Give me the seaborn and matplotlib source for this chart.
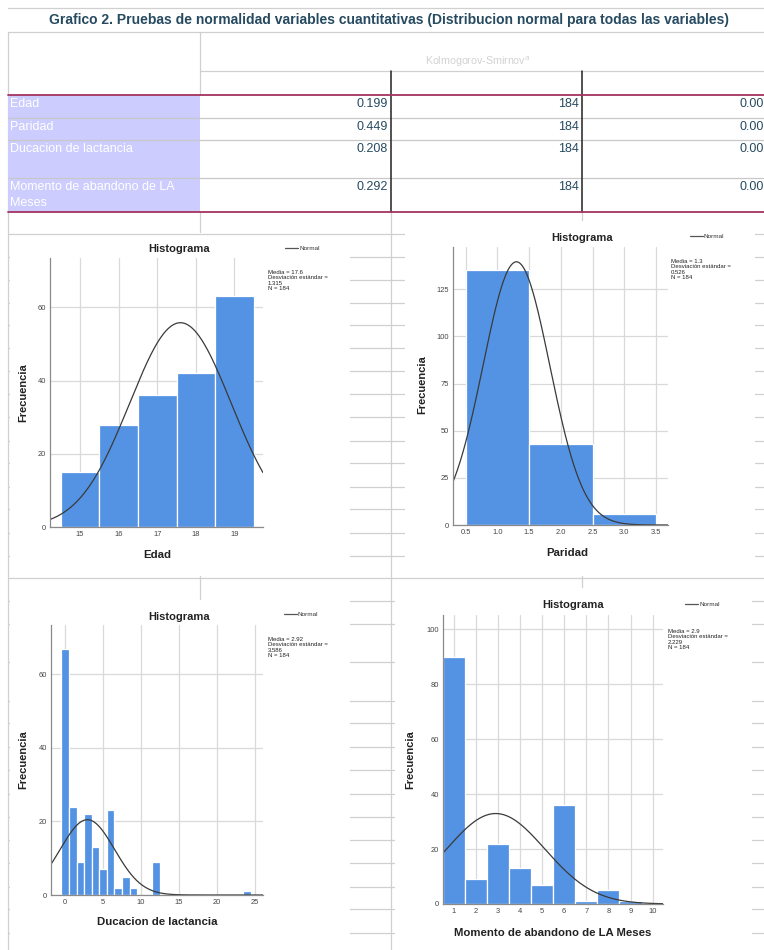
import numpy as np
import matplotlib
matplotlib.use('Agg')
import matplotlib.pyplot as plt
import seaborn as sns
from matplotlib.lines import Line2D
from matplotlib.patches import Rectangle

# Tabla Kolmogorov-Smirnov
variables = ['Edad', 'Paridad', 'Ducacion de lactancia', 'Momento de abandono de LA\nMeses']
estadistico = ['0.199', '0.449', '0.208', '0.292']
gl = ['184', '184', '184', '184']
sig = ['0.00', '0.00', '0.00', '0.00']

# Histogramas: valor -> frecuencia
edad_val = [15, 16, 17, 18, 19]
edad_frec = [15, 28, 36, 42, 63]
paridad_val = [1, 2, 3]
paridad_frec = [135, 43, 6]
lact_val = [0, 1, 2, 3, 4, 5, 6, 7, 8, 9, 12, 24]
lact_frec = [67, 24, 9, 22, 13, 7, 23, 2, 5, 2, 9, 1]
meses_val = [1, 2, 3, 4, 5, 6, 7, 8, 9]
meses_frec = [90, 9, 22, 13, 7, 36, 1, 5, 1]

medias = [17.6, 1.3, 2.92, 2.9]
desviaciones = [1.315, 0.526, 3.586, 2.229]
n_total = 184

sns.set_theme(style='white')
plt.rcParams['font.family'] = ['Liberation Sans', 'DejaVu Sans']

W, H = 764, 950
fig = plt.figure(figsize=(W / 100, H / 100), dpi=100)


def fx(x):
    return x / W


def fy(y):
    return 1 - y / H


def hline(y, x0, x1, color='#d0d0d0', lw=0.9, z=1):
    fig.add_artist(Line2D([fx(x0), fx(x1)], [fy(y), fy(y)], color=color, lw=lw, zorder=z))


def vline(x, y0, y1, color='#d0d0d0', lw=0.9, z=1):
    fig.add_artist(Line2D([fx(x), fx(x)], [fy(y0), fy(y1)], color=color, lw=lw, zorder=z))


def rect(x0, y0, x1, y1, color, z=2):
    fig.add_artist(Rectangle((fx(x0), fy(y1)), fx(x1) - fx(x0), fy(y0) - fy(y1),
                             facecolor=color, edgecolor='none', zorder=z))


# ---------------- tabla ----------------
txt_col = '#264a60'
hline(8, 8, 764)
hline(32, 8, 764)
fig.text(fx(389), fy(20), 'Grafico 2. Pruebas de normalidad variables cuantitativas '
         '(Distribucion normal para todas las variables)',
         ha='center', va='center', fontsize=10, fontweight='bold', color=txt_col)
vline(200, 32, 95)
hline(71, 200, 764)
fig.text(fx(478), fy(62), 'Kolmogorov-Smirnov$^{a}$', ha='center', va='center',
         fontsize=7.7, color='#d2d2d2')

row_top = [95, 118, 140, 178]
rect(8, 95, 200, 212, '#ccccff', z=2)
for i in range(4):
    if i > 0:
        hline(row_top[i], 8, 764, color='#c8c8c8', z=3)
    fig.text(fx(10), fy(row_top[i] + 3), variables[i], ha='left', va='top',
             fontsize=9, color='white', linespacing=1.5, zorder=4)
    fig.text(fx(388), fy(row_top[i] + 3), estadistico[i], ha='right', va='top',
             fontsize=9, color=txt_col)
    fig.text(fx(579), fy(row_top[i] + 3), gl[i], ha='right', va='top',
             fontsize=9, color=txt_col)
    fig.text(fx(764), fy(row_top[i] + 3), sig[i], ha='right', va='top',
             fontsize=9, color=txt_col)
vline(391, 71, 212, color='#222222', lw=1.1, z=3)
vline(582, 71, 212, color='#222222', lw=1.1, z=3)
hline(95, 8, 764, color='#a3345f', lw=1.3, z=4)
hline(212, 8, 764, color='#a3345f', lw=1.3, z=4)

# ---------------- celdas de fondo ----------------
vline(8, 32, 950)
vline(391, 212, 950)
vline(200, 212, 232)
vline(582, 212, 220)
vline(200, 571, 599)
vline(582, 571, 587)
hline(578, 8, 764)
filas = [234, 257, 280, 303, 325, 348, 371, 394, 417, 441, 463, 487, 509, 533, 556,
         601, 624, 662, 701, 723, 747, 770, 794, 817, 840, 863, 887, 909, 933]
for y in filas:
    hline(y, 8, 764)

# fondos blancos de las imagenes
rect(10, 236, 350, 576, 'white', z=2)
rect(405, 226, 755, 576, 'white', z=2)
rect(10, 600, 350, 950, 'white', z=2)
rect(395, 590, 752, 950, 'white', z=2)

# ---------------- histogramas ----------------
paneles = [
    dict(val=edad_val, frec=edad_frec, box=(50, 258, 263, 527), xlim=(14.22, 19.74),
         ylim=(0, 73.5), xt=[15, 16, 17, 18, 19], xtl=None, yt=[0, 20, 40, 60],
         xlabel='Edad', tit=(179, 249), frec_pos=(23, 393), xl=(157, 555),
         leg=(285, 248), stats=(268, 270)),
    dict(val=paridad_val, frec=paridad_frec, box=(453, 247, 668, 525), xlim=(0.3, 3.69),
         ylim=(0, 147.4), xt=[0.5, 1.0, 1.5, 2.0, 2.5, 3.0, 3.5],
         xtl=['0.5', '1.0', '1.5', '2.0', '2.5', '3.0', '3.5'], yt=[0, 25, 50, 75, 100, 125],
         xlabel='Paridad', tit=(582, 238), frec_pos=(422, 385), xl=(567, 553),
         leg=(690, 236), stats=(671, 259)),
    dict(val=lact_val, frec=lact_frec, box=(51, 625, 263, 895), xlim=(-1.88, 26.1),
         ylim=(0, 73.4), xt=[0, 5, 10, 15, 20, 25], xtl=None, yt=[0, 20, 40, 60],
         xlabel='Ducacion de lactancia', tit=(179, 617), frec_pos=(23, 760), xl=(157, 922),
         leg=(284, 614), stats=(268, 637)),
    dict(val=meses_val, frec=meses_frec, box=(443, 615, 663, 904), xlim=(0.515, 10.47),
         ylim=(0, 105.2), xt=list(range(1, 11)), xtl=None, yt=[0, 20, 40, 60, 80, 100],
         xlabel='Momento de abandono de LA Meses', tit=(573, 605), frec_pos=(410, 760),
         xl=(553, 933), leg=(685, 604), stats=(668, 629)),
]

for i, p in enumerate(paneles):
    x0, y0, x1, y1 = p['box']
    ax = fig.add_axes([fx(x0), fy(y1), fx(x1) - fx(x0), fy(y0) - fy(y1)])
    ax.set_zorder(5)
    ax.patch.set_alpha(0)
    sns.histplot(x=p['val'], weights=p['frec'], discrete=True, ax=ax,
                 color='#5493e3', edgecolor='white', linewidth=0.9, alpha=1)
    mu, sd = medias[i], desviaciones[i]
    xs = np.linspace(p['xlim'][0], p['xlim'][1], 300)
    ys = n_total * np.exp(-0.5 * ((xs - mu) / sd) ** 2) / (sd * np.sqrt(2 * np.pi))
    sns.lineplot(x=xs, y=ys, ax=ax, color='#3a3a3a', lw=0.9)
    ax.set_xlim(*p['xlim'])
    ax.set_ylim(*p['ylim'])
    ax.set_xticks(p['xt'])
    if p['xtl'] is not None:
        ax.set_xticklabels(p['xtl'])
    ax.set_yticks(p['yt'])
    ax.grid(True, color='#d9d9d9', lw=0.9)
    ax.set_axisbelow(True)
    ax.tick_params(labelsize=5.4, colors='#444444', length=0, pad=3)
    for s in ['top', 'right']:
        ax.spines[s].set_visible(False)
    for s in ['left', 'bottom']:
        ax.spines[s].set_color('#8a8a8a')
        ax.spines[s].set_linewidth(0.9)
    ax.set_xlabel('')
    ax.set_ylabel('')

    fig.text(fx(p['tit'][0]), fy(p['tit'][1]), 'Histograma', ha='center', va='center',
             fontsize=8, fontweight='bold', color='#222222', zorder=6)
    fig.text(fx(p['frec_pos'][0]), fy(p['frec_pos'][1]), 'Frecuencia', rotation=90,
             ha='center', va='center', fontsize=8, fontweight='bold', color='#222222', zorder=6)
    fig.text(fx(p['xl'][0]), fy(p['xl'][1]), p['xlabel'], ha='center', va='center',
             fontsize=8.2, fontweight='bold', color='#222222', zorder=6)
    lx, ly = p['leg']
    hline(ly, lx, lx + 13, color='#555555', lw=0.9, z=6)
    fig.text(fx(lx + 14), fy(ly), 'Normal', ha='left', va='center', fontsize=4.6,
             color='#333333', zorder=6)
    sx, sy = p['stats']
    fig.text(fx(sx), fy(sy), 'Media = %s\nDesviación estándar =\n%.3f\nN = %d'
             % (('%g' % mu), sd, n_total),
             ha='left', va='top', fontsize=4.3, color='#222222', linespacing=1.1, zorder=6)

fig.savefig('out.png', dpi=100)
